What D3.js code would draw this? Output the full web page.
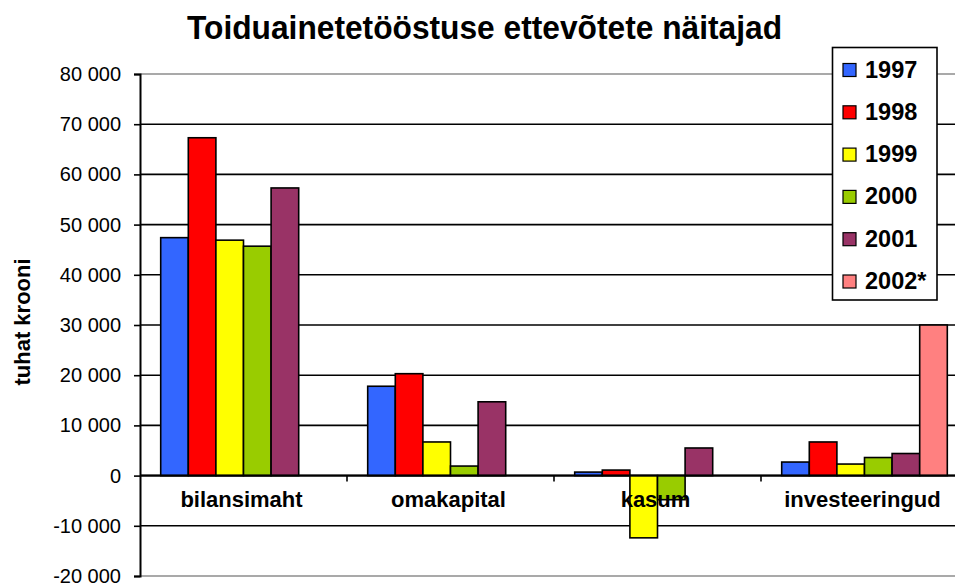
<!DOCTYPE html>
<html>
<head>
<meta charset="utf-8">
<script src="https://cdn.jsdelivr.net/npm/d3@7"></script>
<style>
  body { margin: 0; background: #fff; }
  text { font-family: Arial, "Liberation Sans", sans-serif; fill: #000; }
</style>
</head>
<body>
<div id="chart"></div>
<script>
const categories = ["bilansimaht", "omakapital", "kasum", "investeeringud"];
const years = ["1997", "1998", "1999", "2000", "2001", "2002*"];
const colors = ["#3366ff", "#ff0000", "#ffff00", "#99cc00", "#993366", "#ff8080"];

// values per year, in category order (null = no bar)
const v1997 = [47400, 17800, 700, 2700];
const v1998 = [67300, 20300, 1100, 6700];
const v1999 = [46900, 6700, -12400, 2300];
const v2000 = [45700, 1900, -4800, 3600];
const v2001 = [57300, 14700, 5500, 4400];
const v2002 = [null, null, null, 30000];
const yTicks = [-20000, -10000, 0, 10000, 20000, 30000, 40000, 50000, 60000, 70000, 80000];

const series = [v1997, v1998, v1999, v2000, v2001, v2002];

const width = 955, height = 583;
const svg = d3.select("#chart").append("svg").attr("width", width).attr("height", height);

const y = d3.scaleLinear().domain([-20000, 80000]).range([576, 74]);
const x0 = d3.scaleBand().domain(categories).range([140, 968]);
const x1 = d3.scaleBand().domain(years).range([0, x0.bandwidth()]).paddingOuter(0.75);

const locale = d3.formatLocale({ decimal: ",", thousands: " ", grouping: [3], currency: ["", ""], minus: "-" });
const fmt = locale.format(",d");

// title
svg.append("text")
  .attr("x", 187).attr("y", 39)
  .attr("font-size", 33).attr("font-weight", "bold")
  .attr("textLength", 595).attr("lengthAdjust", "spacingAndGlyphs")
  .text("Toiduainetetööstuse ettevõtete näitajad");

// gridlines
svg.append("g").selectAll("line")
  .data(yTicks)
  .enter().append("line")
  .attr("x1", 140).attr("x2", width)
  .attr("y1", d => y(d)).attr("y2", d => y(d))
  .attr("stroke", d => (d === 80000 || d === -20000) ? "#8c8c8c" : "#000")
  .attr("stroke-width", 1.6);

// y axis
const yAxis = d3.axisLeft(y).tickValues(yTicks).tickFormat(fmt).tickSize(6).tickPadding(13);
const gy = svg.append("g").attr("transform", "translate(140,0)").call(yAxis);
gy.select(".domain").attr("stroke", "#000").attr("stroke-width", 2);
gy.selectAll(".tick line").attr("stroke", "#000").attr("stroke-width", 1.6);
gy.selectAll(".tick text").attr("font-size", 20).attr("font-family", "Arial, 'Liberation Sans', sans-serif").attr("fill", "#000");

svg.append("text")
  .attr("transform", "translate(30,322) rotate(-90)")
  .attr("text-anchor", "middle")
  .attr("font-size", 22).attr("font-weight", "bold")
  .text("tuhat krooni");

// bars
const rows = [];
categories.forEach((c, i) => {
  years.forEach((yr, j) => {
    if (series[j][i] !== null) rows.push({ cat: c, year: yr, value: series[j][i], color: colors[j] });
  });
});

svg.append("g").selectAll("rect")
  .data(rows)
  .enter().append("rect")
  .attr("x", d => x0(d.cat) + x1(d.year))
  .attr("width", x1.bandwidth())
  .attr("y", d => y(Math.max(0, d.value)))
  .attr("height", d => Math.abs(y(d.value) - y(0)))
  .attr("fill", d => d.color)
  .attr("stroke", "#000")
  .attr("stroke-width", 1.6);

// zero line with category ticks
svg.append("line")
  .attr("x1", 140).attr("x2", width)
  .attr("y1", y(0)).attr("y2", y(0))
  .attr("stroke", "#000").attr("stroke-width", 2);
svg.append("g").selectAll("line")
  .data(categories.slice(1))
  .enter().append("line")
  .attr("x1", d => x0(d)).attr("x2", d => x0(d))
  .attr("y1", y(0)).attr("y2", y(0) + 6)
  .attr("stroke", "#000").attr("stroke-width", 1.6);

// category labels
svg.append("g").selectAll("text")
  .data(categories)
  .enter().append("text")
  .attr("x", d => x0(d) + x0.bandwidth() / 2 - 2)
  .attr("y", 507)
  .attr("text-anchor", "middle")
  .attr("font-size", 22).attr("font-weight", "bold")
  .text(d => d);

// legend
const legend = svg.append("g").attr("class", "legend");
legend.append("rect")
  .attr("x", 832.5).attr("y", 47.5)
  .attr("width", 104.5).attr("height", 252.5)
  .attr("fill", "#fff").attr("stroke", "#000").attr("stroke-width", 1.6);
const items = legend.selectAll(".item")
  .data(years)
  .enter().append("g")
  .attr("transform", (d, i) => `translate(0, ${77.5 + i * 42.3})`);
items.append("rect")
  .attr("x", 843).attr("y", -14)
  .attr("width", 13).attr("height", 13)
  .attr("fill", (d, i) => colors[i])
  .attr("stroke", "#000").attr("stroke-width", 1.2);
items.append("text")
  .attr("x", 865).attr("y", 0)
  .attr("font-size", 23.5).attr("font-weight", "bold")
  .text(d => d);
</script>
</body>
</html>
